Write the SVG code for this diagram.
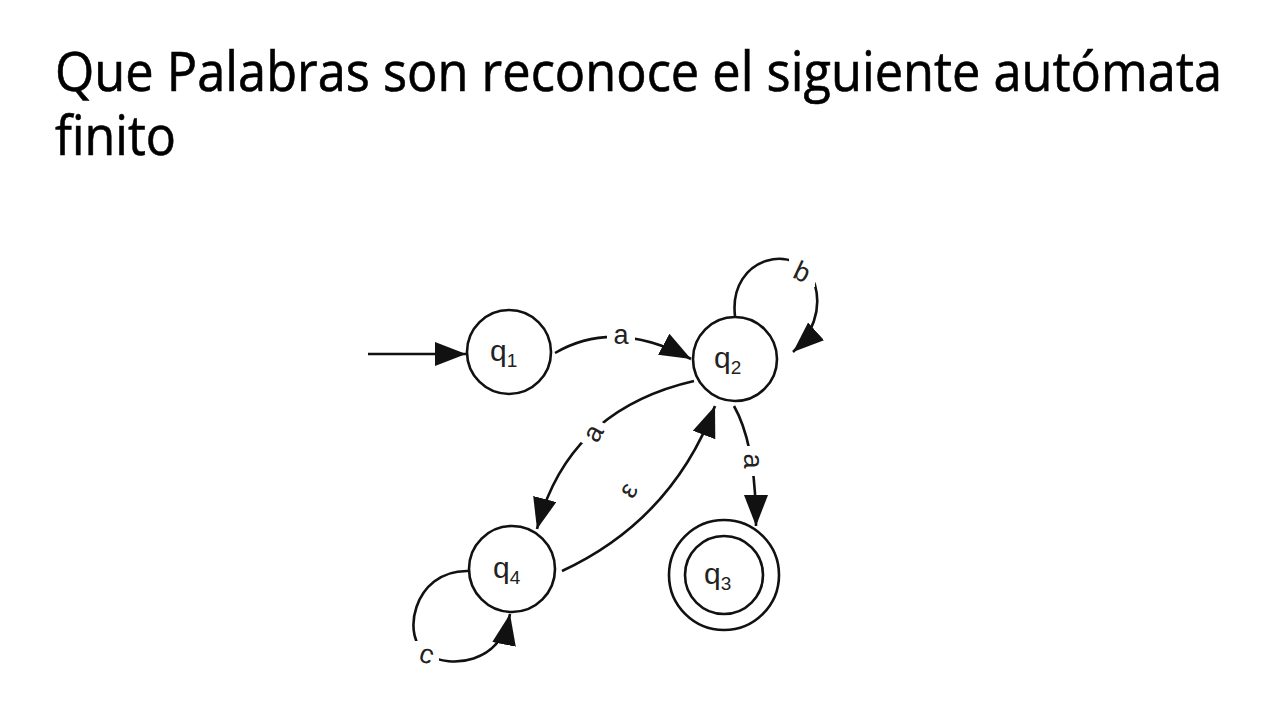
<svg xmlns="http://www.w3.org/2000/svg" width="1280" height="720" viewBox="0 0 1280 720">
  <style>
    .title { font-family: "Open Sans", "Liberation Sans", sans-serif; font-size: 54px; fill: #000; stroke: #000; stroke-width: 0.6; }
    .state { fill: #fff; stroke: #111; stroke-width: 2.6; }
    .edge { fill: none; stroke: #111; stroke-width: 2.6; }
    .q { font-family: "Liberation Sans", Arial, sans-serif; font-size: 30px; fill: #222; }
    .sub { font-size: 19px; }
    .lbl { font-family: "Liberation Sans", Arial, sans-serif; font-size: 27px; fill: #222; text-anchor: middle; dominant-baseline: central; }
    .bg { fill: #fff; stroke: none; }
  </style>
  <defs>
    <marker id="arr" markerUnits="userSpaceOnUse" markerWidth="34" markerHeight="26" refX="31" refY="12" orient="auto">
      <path d="M0,0 L31,12 L0,24 z" fill="#111"/>
    </marker>
  </defs>
  <rect width="1280" height="720" fill="#fff"/>
  <text class="title" x="55" y="91" textLength="1167" lengthAdjust="spacingAndGlyphs">Que Palabras son reconoce el siguiente autómata</text>
  <text class="title" x="55" y="155" textLength="121" lengthAdjust="spacingAndGlyphs">finito</text>

  <g id="connectors">
    <path class="edge" d="M368 354 L466 354" marker-end="url(#arr)"/>
    <path class="edge" d="M555 353 Q615 318 691 359" marker-end="url(#arr)"/>
    <rect class="bg" x="607" y="322" width="28" height="28"/>
    <text class="lbl" x="621" y="335">a</text>

    <path class="edge" d="M735 316 C728 255 800 240 815 285 C822 310 812 335 793 352" marker-end="url(#arr)"/>
    <rect class="bg" x="789" y="257" width="26" height="30"/>
    <text class="lbl" x="802" y="272" transform="rotate(25 802 272)">b</text>

    <path class="edge" d="M694 381 Q568 410 537 529" marker-end="url(#arr)"/>
    <rect class="bg" x="579" y="419" width="28" height="28" transform="rotate(-60 593 433)"/>
    <text class="lbl" x="593" y="433" transform="rotate(-60 593 433)">a</text>

    <path class="edge" d="M562 571 Q672 520 715 406" marker-end="url(#arr)"/>
    <rect class="bg" x="614" y="476" width="28" height="28"/>
    <text class="lbl" x="628" y="490" transform="rotate(-60 628 490)">ε</text>

    <path class="edge" d="M734 406 Q756 445 756 526" marker-end="url(#arr)"/>
    <rect class="bg" x="739" y="446" width="28" height="30"/>
    <text class="lbl" x="753" y="461" transform="rotate(90 753 461)">a</text>

    <path class="edge" d="M468 571 C412 570 400 640 428 655 C450 668 500 665 510 614" marker-end="url(#arr)"/>
    <rect class="bg" x="413" y="641" width="26" height="26"/>
    <text class="lbl" x="427" y="654" transform="rotate(20 427 654)">c</text>
  </g>

  <g id="q1">
    <circle class="state" cx="509" cy="352" r="42"/>
    <text class="q" x="490" y="361">q<tspan class="sub" dy="6">1</tspan></text>
  </g>
  <g id="q2">
    <circle class="state" cx="735" cy="359" r="42"/>
    <text class="q" x="714" y="368">q<tspan class="sub" dy="6">2</tspan></text>
  </g>
  <g id="q4">
    <circle class="state" cx="512" cy="569" r="43"/>
    <text class="q" x="493" y="578">q<tspan class="sub" dy="6">4</tspan></text>
  </g>
  <g id="q3">
    <circle class="state" cx="724" cy="575" r="55"/>
    <circle class="state" cx="724" cy="575" r="39"/>
    <text class="q" x="704" y="584">q<tspan class="sub" dy="6">3</tspan></text>
  </g>
</svg>
